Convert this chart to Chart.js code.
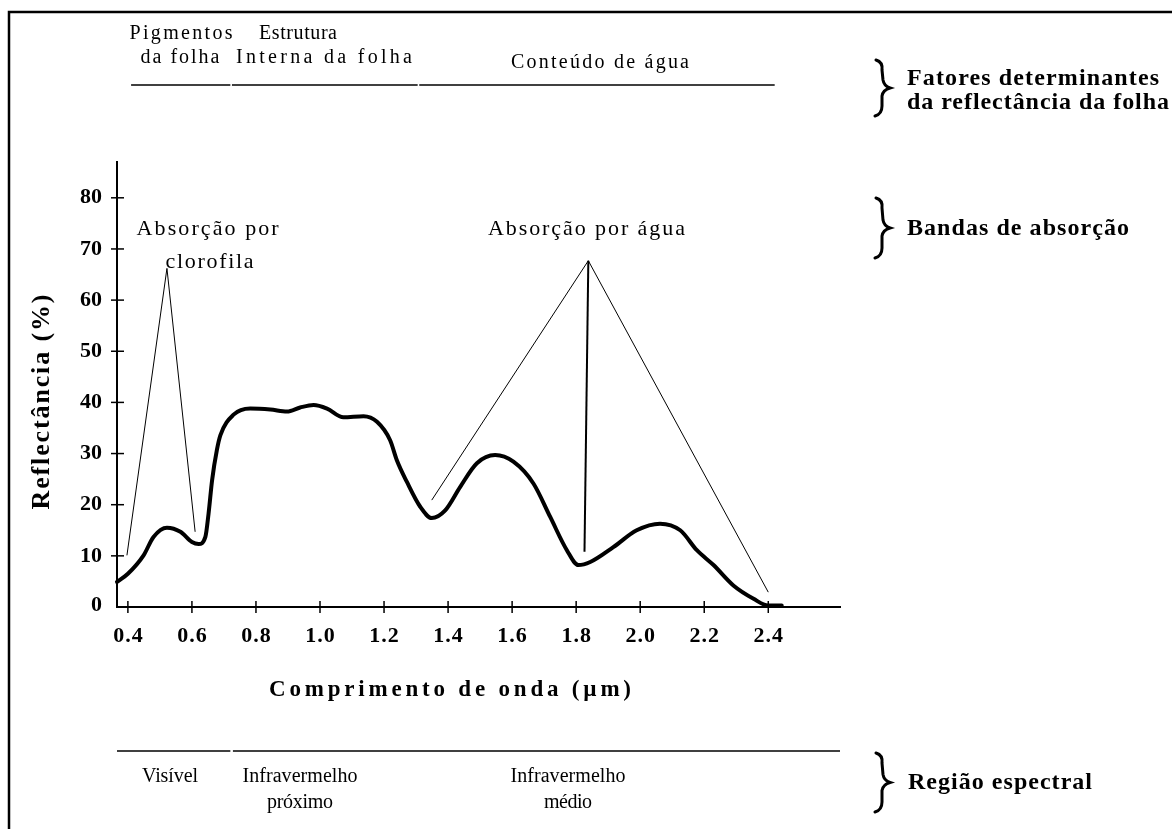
<!DOCTYPE html>
<html><head><meta charset="utf-8">
<script src="https://cdn.jsdelivr.net/npm/chart.js@4.4.0/dist/chart.umd.min.js"></script>
<style>html,body{margin:0;padding:0;background:#fff;}#wrap{width:1172px;height:829px;position:relative;}</style>
</head><body><div id="wrap"><canvas id="c" width="1172" height="829"></canvas></div>
<script>
// ---- data ----
const wavelength = [0.366,0.400,0.449,0.480,0.522,0.564,0.600,0.621,0.642,0.652,0.663,0.678,0.689,0.730,0.782,0.845,0.897,0.938,0.980,1.022,1.073,1.136,1.178,1.219,1.240,1.271,1.313,1.349,1.391,1.438,1.490,1.547,1.604,1.667,1.719,1.771,1.807,1.844,1.916,1.989,2.062,2.125,2.177,2.229,2.291,2.354,2.400,2.442];
const reflectance = [4.9,6.5,10.1,13.7,15.5,14.7,12.7,12.3,13.7,18.3,24.8,30.7,33.6,37.6,38.8,38.6,38.2,39.0,39.5,38.8,37.1,37.3,36.2,32.6,28.7,24.5,19.6,17.4,18.9,23.5,28.1,29.7,28.4,24.1,17.6,11.1,8.2,8.8,11.7,15.0,16.3,15.0,11.1,8.2,4.2,1.6,0.3,0.3];
const chlorophyllMarkX = [0.397,0.522,0.610];
const chlorophyllMarkY = [10.1,66.2,14.7];
const waterMarkX = [1.349,1.838,2.400];
const waterMarkY = [20.9,67.7,2.9];
const waterCenterX = [1.838,1.826];
const waterCenterY = [67.7,10.8];
const xTicks = [0.4,0.6,0.8,1.0,1.2,1.4,1.6,1.8,2.0,2.2,2.4];
const xTickLabels = ['0.4','0.6','0.8','1.0','1.2','1.4','1.6','1.8','2.0','2.2','2.4'];
const yTicks = [0,10,20,30,40,50,60,70,80];
const yTickLabels = ['0','10','20','30','40','50','60','70','80'];
const leafFactorStart = [0.41,0.725,1.31];
const leafFactorEnd = [0.72,1.305,2.42];
const spectralStart = [0.366,0.728];
const spectralEnd = [0.72,2.624];

const pts = (xs, ys) => xs.map((x,i)=>({x:x,y:ys[i]}));
const SERIF = '"Liberation Serif","DejaVu Serif",serif';

function txt(ctx, s, x, y, size, bold, align, width, spacing) {
  ctx.save();
  ctx.font = (bold?'bold ':'') + size + 'px ' + SERIF;
  ctx.letterSpacing = '0px';
  let ls = spacing || 0;
  if (width) {
    const w = ctx.measureText(s).width;
    ls = (width - w) / Math.max(1, s.length - 1);
  }
  ctx.letterSpacing = ls + 'px';
  ctx.textBaseline = 'middle';
  ctx.fillStyle = '#000';
  if (align === 'center') { ctx.textAlign = 'center'; ctx.fillText(s, x + ls/2, y); }
  else if (align === 'right') { ctx.textAlign = 'right'; ctx.fillText(s, x + ls, y); }
  else { ctx.textAlign = 'left'; ctx.fillText(s, x, y); }
  ctx.restore();
}
function brace(ctx, x, y0, y1) {
  const m = (y0+y1)/2;
  ctx.save(); ctx.strokeStyle='#000'; ctx.lineWidth=3; ctx.lineCap='round';
  ctx.beginPath();
  ctx.moveTo(x-5, y0);
  ctx.quadraticCurveTo(x+2, y0+2, x+1, y0+10);
  ctx.lineTo(x+2, m-8);
  ctx.quadraticCurveTo(x+3, m-2, x+9, m);
  ctx.quadraticCurveTo(x+2, m+2, x+1, m+8);
  ctx.lineTo(x+1, y1-10);
  ctx.quadraticCurveTo(x+1, y1-2, x-6, y1);
  ctx.stroke(); ctx.restore();
}
function hline(ctx, x0, x1, y, w) {
  ctx.save(); ctx.strokeStyle='#000'; ctx.lineWidth=w||1.5;
  ctx.beginPath(); ctx.moveTo(x0,y); ctx.lineTo(x1,y); ctx.stroke(); ctx.restore();
}

const deco = {
  id: 'deco',
  afterDraw(chart) {
    const ctx = chart.ctx, xs = chart.scales.x, ys = chart.scales.y;
    const L = chart.chartArea.left, B = chart.chartArea.bottom;
    // frame
    ctx.save(); ctx.strokeStyle='#000'; ctx.lineWidth=2.5;
    ctx.beginPath(); ctx.moveTo(9,829); ctx.lineTo(9,12); ctx.lineTo(1172,12); ctx.stroke(); ctx.restore();
    // tick marks crossing axes + labels
    ctx.save(); ctx.strokeStyle='#000'; ctx.lineWidth=1.5;
    xTicks.forEach((v,i)=>{ const p=xs.getPixelForValue(v);
      ctx.beginPath(); ctx.moveTo(p,B-6); ctx.lineTo(p,B+6); ctx.stroke();
      txt(ctx, xTickLabels[i], p, B+29, 22, true, 'center', null, 1); });
    yTicks.forEach((v,i)=>{ const p=ys.getPixelForValue(v);
      if (v>0){ ctx.beginPath(); ctx.moveTo(L-6,p); ctx.lineTo(L+7,p); ctx.stroke(); }
      txt(ctx, yTickLabels[i], L-15, v===0?p-2:p, 22, true, 'right', null, 0); });
    ctx.restore();
    // axis titles
    txt(ctx, 'Comprimento de onda (µm)', 450, 690, 23, true, 'center', 362);
    ctx.save(); ctx.translate(42, 402); ctx.rotate(-Math.PI/2);
    txt(ctx, 'Reflectância (%)', 0, 0, 26, true, 'center', 215); ctx.restore();
    // leaf factors (top)
    leafFactorStart.forEach((s,i)=>hline(ctx, xs.getPixelForValue(s), xs.getPixelForValue(leafFactorEnd[i]), 85, 1.5));
    txt(ctx, 'Pigmentos', 181, 34, 20, false, 'center', 103);
    txt(ctx, 'da folha', 180, 58, 20, false, 'center', 79);
    txt(ctx, 'Estrutura', 298, 34, 20, false, 'center', 78);
    txt(ctx, 'Interna da folha', 324, 58, 20, false, 'center', 176);
    txt(ctx, 'Conteúdo de água', 600, 63, 20, false, 'center', 178);
    // spectral regions (bottom)
    spectralStart.forEach((s,i)=>hline(ctx, xs.getPixelForValue(s), xs.getPixelForValue(spectralEnd[i]), 751, 1.5));
    txt(ctx, 'Visível', 170, 777, 20, false, 'center', 56);
    txt(ctx, 'Infravermelho', 300, 777, 20, false, 'center', 115);
    txt(ctx, 'próximo', 300, 803, 20, false, 'center', 66);
    txt(ctx, 'Infravermelho', 568, 777, 20, false, 'center', 115);
    txt(ctx, 'médio', 568, 803, 20, false, 'center', 48);
    // absorption labels (positioned on data coordinates)
    txt(ctx, 'Absorção por', xs.getPixelForValue(0.649), 229, 22, false, 'center', 142);
    txt(ctx, 'clorofila', xs.getPixelForValue(0.655), 262, 22, false, 'center', 88);
    txt(ctx, 'Absorção por água', xs.getPixelForValue(1.832), 229, 22, false, 'center', 197);
    // right side legend
    brace(ctx, 881, 60, 116);
    txt(ctx, 'Fatores determinantes', 907, 79, 24, true, 'left', 252);
    txt(ctx, 'da reflectância da folha', 907, 103, 24, true, 'left', 262);
    brace(ctx, 881, 198, 258);
    txt(ctx, 'Bandas de absorção', 907, 229, 24, true, 'left', 222);
    brace(ctx, 881, 753, 812);
    txt(ctx, 'Região espectral', 908, 783, 24, true, 'left', 184);
  }
};

new Chart(document.getElementById('c'), {
  type: 'line',
  data: { datasets: [
    { label:'Reflectância', data: pts(wavelength, reflectance), borderColor:'#000', borderWidth:4, pointRadius:0, cubicInterpolationMode:'monotone', clip:false, borderCapStyle:'round', borderJoinStyle:'round' },
    { label:'Clorofila', data: pts(chlorophyllMarkX, chlorophyllMarkY), borderColor:'#000', borderWidth:1, pointRadius:0, tension:0, clip:false },
    { label:'Água', data: pts(waterMarkX, waterMarkY), borderColor:'#000', borderWidth:1, pointRadius:0, tension:0, clip:false },
    { label:'Água centro', data: pts(waterCenterX, waterCenterY), borderColor:'#000', borderWidth:2, pointRadius:0, tension:0, clip:false }
  ]},
  options: {
    responsive:false, animation:false, events:[],
    layout:{ padding:{ left:117, right:332, top:162, bottom:222 } },
    plugins:{ legend:{display:false}, tooltip:{enabled:false} },
    scales:{
      x:{ type:'linear', min:0.366, max:2.624, grid:{display:false, drawTicks:false}, border:{display:true, color:'#000', width:2},
          ticks:{display:false}, afterFit(s){ s.height=0; }, afterBuildTicks(s){ s.ticks = xTicks.map(v=>({value:v})); } },
      y:{ type:'linear', min:0, max:87, grid:{display:false, drawTicks:false}, border:{display:true, color:'#000', width:2},
          ticks:{display:false}, afterFit(s){ s.width=0; }, afterBuildTicks(s){ s.ticks = yTicks.map(v=>({value:v})); } }
    }
  },
  plugins:[deco]
});
</script></body></html>
